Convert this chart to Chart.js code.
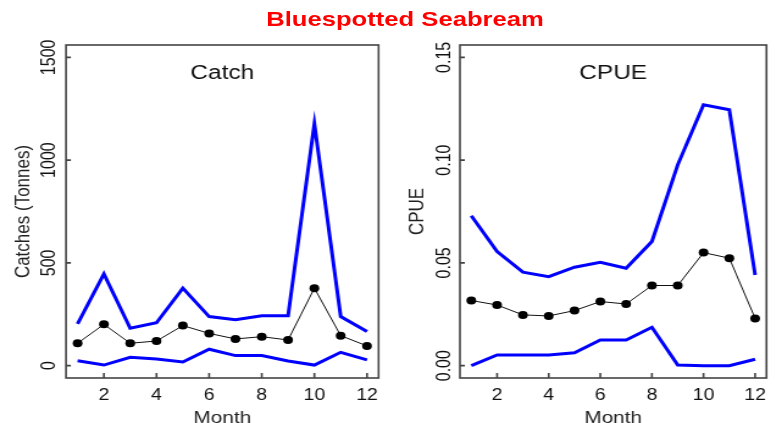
<!DOCTYPE html>
<html>
<head>
<meta charset="utf-8">
<script src="https://cdn.jsdelivr.net/npm/chart.js@4.4.1/dist/chart.umd.min.js"></script>
<style>
  html, body { margin: 0; padding: 0; background: #fff; overflow: hidden; }
  #stage { position: absolute; left: 0; top: 0; width: 636px; height: 423px; transform: scaleX(1.22); transform-origin: 0 0; }
  #mainTitle { position: absolute; left: 0; top: 8px; width: 664px; text-align: center; font: bold 21px "Liberation Sans", Arial, sans-serif; line-height: 21px; color: #ff0000; }
  canvas { position: absolute; top: 0; }
  #c1 { left: 0; }
  #c2 { left: 318px; }
</style>
</head>
<body>
<div id="stage">
  <div id="mainTitle">Bluespotted Seabream</div>
  <canvas id="c1" width="318" height="423"></canvas>
  <canvas id="c2" width="318" height="423"></canvas>
</div>
<script>
// ---- data ----
const months = [1, 2, 3, 4, 5, 6, 7, 8, 9, 10, 11, 12];
const monthTicks = [2, 4, 6, 8, 10, 12];

const catchMean  = [109, 201, 109, 120, 195, 157, 130, 141, 125, 377, 146, 96];
const catchUpper = [203, 446, 182, 209, 377, 239, 224, 243, 243, 1177, 239, 166];
const catchLower = [24, 3, 41, 32, 18, 80, 49, 49, 23, 3, 65, 28];
const catchTicks = [0, 500, 1000, 1500];

const cpueMean  = [0.0317, 0.0295, 0.0247, 0.0242, 0.0268, 0.0312, 0.0300, 0.0390, 0.0390, 0.0550, 0.0523, 0.0230];
const cpueUpper = [0.0729, 0.0555, 0.0455, 0.0433, 0.0479, 0.0503, 0.0474, 0.0604, 0.0977, 0.1269, 0.1245, 0.0441];
const cpueLower = [0.0000, 0.0052, 0.0052, 0.0052, 0.0063, 0.0125, 0.0125, 0.0187, 0.0003, 0.0000, 0.0000, 0.0031];
const cpueTicks = [0, 0.05, 0.10, 0.15];
// ---------------------------------------

const FONT = '"Liberation Sans", Arial, sans-serif';
const TICK_FONT_SIZE = 16;

function pts(ys) { return months.map((m, i) => ({ x: m, y: ys[i] })); }

function labelPad(labels, centerOffset) {
  const c = document.createElement('canvas').getContext('2d');
  c.font = TICK_FONT_SIZE + 'px ' + FONT;
  const w = Math.max(...labels.map(l => c.measureText(l).width));
  return centerOffset - w / 2;
}

const framePlugin = {
  id: 'frame',
  afterDraw(chart, args, opts) {
    const { ctx, chartArea: a, scales: { x, y } } = chart;
    ctx.save();
    ctx.strokeStyle = '#444';
    ctx.lineWidth = 1.6;
    ctx.strokeRect(a.left, a.top, a.right - a.left, a.bottom - a.top);
    ctx.beginPath();
    x.ticks.forEach(t => {
      const px = x.getPixelForValue(t.value);
      ctx.moveTo(px, a.bottom); ctx.lineTo(px, a.bottom - 5);
    });
    y.ticks.forEach(t => {
      const py = y.getPixelForValue(t.value);
      ctx.moveTo(a.left, py); ctx.lineTo(a.left + 4, py);
    });
    ctx.stroke();
    ctx.fillStyle = '#111';
    ctx.font = '20px ' + FONT;
    ctx.textAlign = 'center';
    ctx.textBaseline = 'alphabetic';
    ctx.fillText(opts.text, (a.left + a.right) / 2, 79);
    ctx.restore();
  }
};

function makeChart(id, cfg) {
  const yLabels = cfg.yTicks.map(cfg.fmt);
  return new Chart(document.getElementById(id), {
    type: 'line',
    data: {
      datasets: [
        { data: pts(cfg.upper), borderColor: '#0000ff', borderWidth: 3, pointRadius: 0, tension: 0 },
        { data: pts(cfg.lower), borderColor: '#0000ff', borderWidth: 3, pointRadius: 0, tension: 0 },
        { data: pts(cfg.mean), borderColor: '#111', borderWidth: 1, pointRadius: 4,
          pointBackgroundColor: '#000', pointBorderColor: '#000', pointBorderWidth: 0, tension: 0 }
      ]
    },
    options: {
      responsive: false,
      maintainAspectRatio: false,
      animation: false,
      events: [],
      layout: { padding: { top: 45, bottom: 0, left: 0, right: cfg.padRight } },
      plugins: { legend: { display: false }, tooltip: { enabled: false }, frame: { text: cfg.title } },
      scales: {
        x: {
          type: 'linear', min: 0.56, max: 12.44,
          afterBuildTicks: s => { s.ticks = monthTicks.map(v => ({ value: v })); },
          afterFit: s => { s.height = 45; },
          grid: { display: false, drawTicks: false },
          border: { display: false },
          ticks: { autoSkip: false, padding: 8, color: '#111', font: { family: FONT, size: TICK_FONT_SIZE }, maxRotation: 0 },
          title: { display: true, text: 'Month', color: '#222', font: { family: FONT, size: 17, lineHeight: 1 }, padding: { top: 0, bottom: -4 } }
        },
        y: {
          type: 'linear', min: cfg.yMin, max: cfg.yMax,
          afterBuildTicks: s => { s.ticks = cfg.yTicks.map(v => ({ value: v })); },
          afterFit: s => { s.width = cfg.areaLeft; },
          grid: { display: false, drawTicks: false },
          border: { display: false },
          ticks: {
            autoSkip: false, minRotation: 90, maxRotation: 90, crossAlign: 'center',
            padding: labelPad(yLabels, cfg.labelOffset),
            color: '#111', font: { family: FONT, size: TICK_FONT_SIZE },
            callback: v => cfg.fmt(v)
          },
          title: { display: true, text: cfg.yTitle, color: '#222', font: { family: FONT, size: 17, lineHeight: 1 }, padding: { top: cfg.yTitlePad, bottom: 0 } }
        }
      }
    },
    plugins: [framePlugin]
  });
}

makeChart('c1', {
  title: 'Catch', yTitle: 'Catches (Tonnes)',
  mean: catchMean, upper: catchUpper, lower: catchLower,
  yTicks: catchTicks, yMin: -60, yMax: 1560, fmt: v => String(v),
  areaLeft: 54.1, padRight: 7.5, labelOffset: 13.1, yTitlePad: 10.4
});

makeChart('c2', {
  title: 'CPUE', yTitle: 'CPUE',
  mean: cpueMean, upper: cpueUpper, lower: cpueLower,
  yTicks: cpueTicks, yMin: -0.006, yMax: 0.156, fmt: v => v.toFixed(2),
  areaLeft: 59.0, padRight: 2.8, labelOffset: 12.25, yTitlePad: 16.1
});
</script>
</body>
</html>
